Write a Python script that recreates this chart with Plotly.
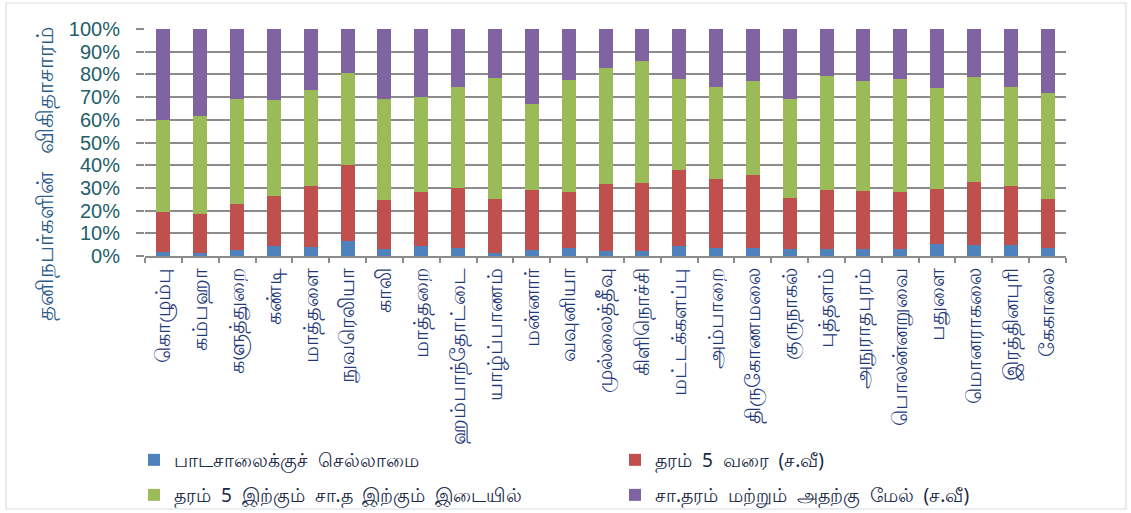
import plotly.graph_objects as go

districts = ["கொழும்பு", "கம்பஹா", "களுத்துறை", "கண்டி", "மாத்தளை", "நுவரெலியா", "காலி",
             "மாத்தறை", "ஹம்பாந்தோட்டை", "யாழ்ப்பாணம்", "மன்னார்", "வவுனியா", "முல்லைத்தீவு",
             "கிளிநொச்சி", "மட்டக்களப்பு", "அம்பாறை", "திருகோணமலை", "குருநாகல்", "புத்தளம்",
             "அநுராதபுரம்", "பொலன்னறுவை", "பதுளை", "மொனராகலை", "இரத்தினபுரி", "கேகாலை"]

no_school = [1.9, 1.5, 2.5, 4.5, 3.8, 6.5, 3.1, 4.4, 3.4, 1.2, 2.6, 3.4, 2.1,
             2.1, 4.4, 3.4, 3.7, 2.9, 2.9, 3.1, 2.9, 5.1, 4.7, 5.0, 3.4]
upto_grade5 = [17.5, 17.1, 20.5, 22.1, 27.2, 33.5, 21.7, 23.9, 26.7, 23.9, 26.6, 24.8, 29.8,
               30.1, 33.6, 30.4, 32.0, 22.8, 26.3, 25.5, 25.4, 24.4, 28.0, 26.0, 21.8]
grade5_to_ol = [40.5, 42.9, 46.2, 42.0, 42.0, 40.8, 44.4, 41.9, 44.2, 53.3, 37.8, 49.2, 50.8,
                53.8, 40.1, 40.5, 41.4, 43.3, 50.2, 48.6, 49.8, 44.7, 46.3, 43.3, 46.5]
ol_and_above = [40.1, 38.5, 30.8, 31.4, 27.0, 19.2, 30.8, 29.8, 25.7, 21.6, 33.0, 22.6, 17.3,
                14.0, 21.9, 25.7, 22.9, 31.0, 20.6, 22.8, 21.9, 25.8, 21.0, 25.7, 28.3]

series_names = ["பாடசாலைக்குச்  செல்லாமை", "தரம்  5  வரை  (ச.வீ)",
                "தரம்  5  இற்கும்  சா.த  இற்கும்  இடையில்", "சா.தரம்  மற்றும்  அதற்கு  மேல்  (ச.வீ)"]
series_values = [no_school, upto_grade5, grade5_to_ol, ol_and_above]
colors = ["#4F81BD", "#C0504D", "#9BBB59", "#8064A2"]
legend_ids = ["legend", "legend", "legend2", "legend2"]

W, H = 1131, 513
L, R, T, B = 145, 65, 29, 257
pw, ph = W - L - R, H - T - B

def px2x(px):
    return (px - L) / pw

def px2y(py):
    return (H - B - py) / ph

fig = go.Figure()
for name, vals, col, lg in zip(series_names, series_values, colors, legend_ids):
    fig.add_trace(go.Bar(x=districts, y=vals, name=name, legend=lg,
                         marker=dict(color=col, line=dict(width=0))))

legend_common = dict(
    orientation="h",
    x=px2x(134), xanchor="left",
    yanchor="middle",
    entrywidth=436, entrywidthmode="pixels",
    font=dict(size=19, color="#1B2A48"),
    traceorder="normal",
    itemwidth=30,
    bgcolor="rgba(0,0,0,0)",
)

fig.update_layout(
    width=W, height=H,
    margin=dict(l=L, r=R, t=T, b=B, autoexpand=False),
    barmode="stack",
    bargap=0.62,
    plot_bgcolor="white",
    paper_bgcolor="white",
    font=dict(family="Noto Sans, sans-serif"),
    showlegend=True,
    legend=dict(legend_common, y=px2y(460)),
    legend2=dict(legend_common, y=px2y(495)),
    xaxis=dict(
        type="category",
        tickangle=-90,
        tickfont=dict(size=21, color="#1F3A7A"),
        ticklabelstandoff=2,
        showline=True, linecolor="#8C8C8C", linewidth=1.5,
        ticks="outside", tickson="boundaries", ticklen=5, tickcolor="#8C8C8C", tickwidth=1.5,
        showgrid=False, automargin=False,
    ),
    yaxis=dict(
        range=[0, 100],
        tickvals=[0, 10, 20, 30, 40, 50, 60, 70, 80, 90, 100],
        ticktext=["0%", "10%", "20%", "30%", "40%", "50%", "60%", "70%", "80%", "90%", "100%"],
        tickfont=dict(family="Liberation Sans, Arial, sans-serif", size=20, color="#235E6A"),
        ticklabelstandoff=12,
        showgrid=True, gridcolor="#8C8C8C", gridwidth=1.5,
        ticks="outside", ticklen=8, tickcolor="#8C8C8C", tickwidth=1.5,
        showline=False, zeroline=False, automargin=False,
    ),
    shapes=[dict(type="rect", xref="paper", yref="paper",
                 x0=px2x(6), x1=px2x(1126), y0=px2y(509), y1=px2y(3),
                 line=dict(color="#D5DEE8", width=1.2), fillcolor="rgba(0,0,0,0)", layer="below")],
    annotations=[dict(text="தனிநபர்களின்   விகிதாசாரம்", xref="paper", yref="paper",
                      x=px2x(44), y=px2y(174), textangle=-90, showarrow=False,
                      font=dict(size=23, color="#2B5C8A"), xanchor="center", yanchor="middle")],
)

fig.write_html("out.html", config={"displayModeBar": False},
               post_script="document.body.style.margin='0px';")
